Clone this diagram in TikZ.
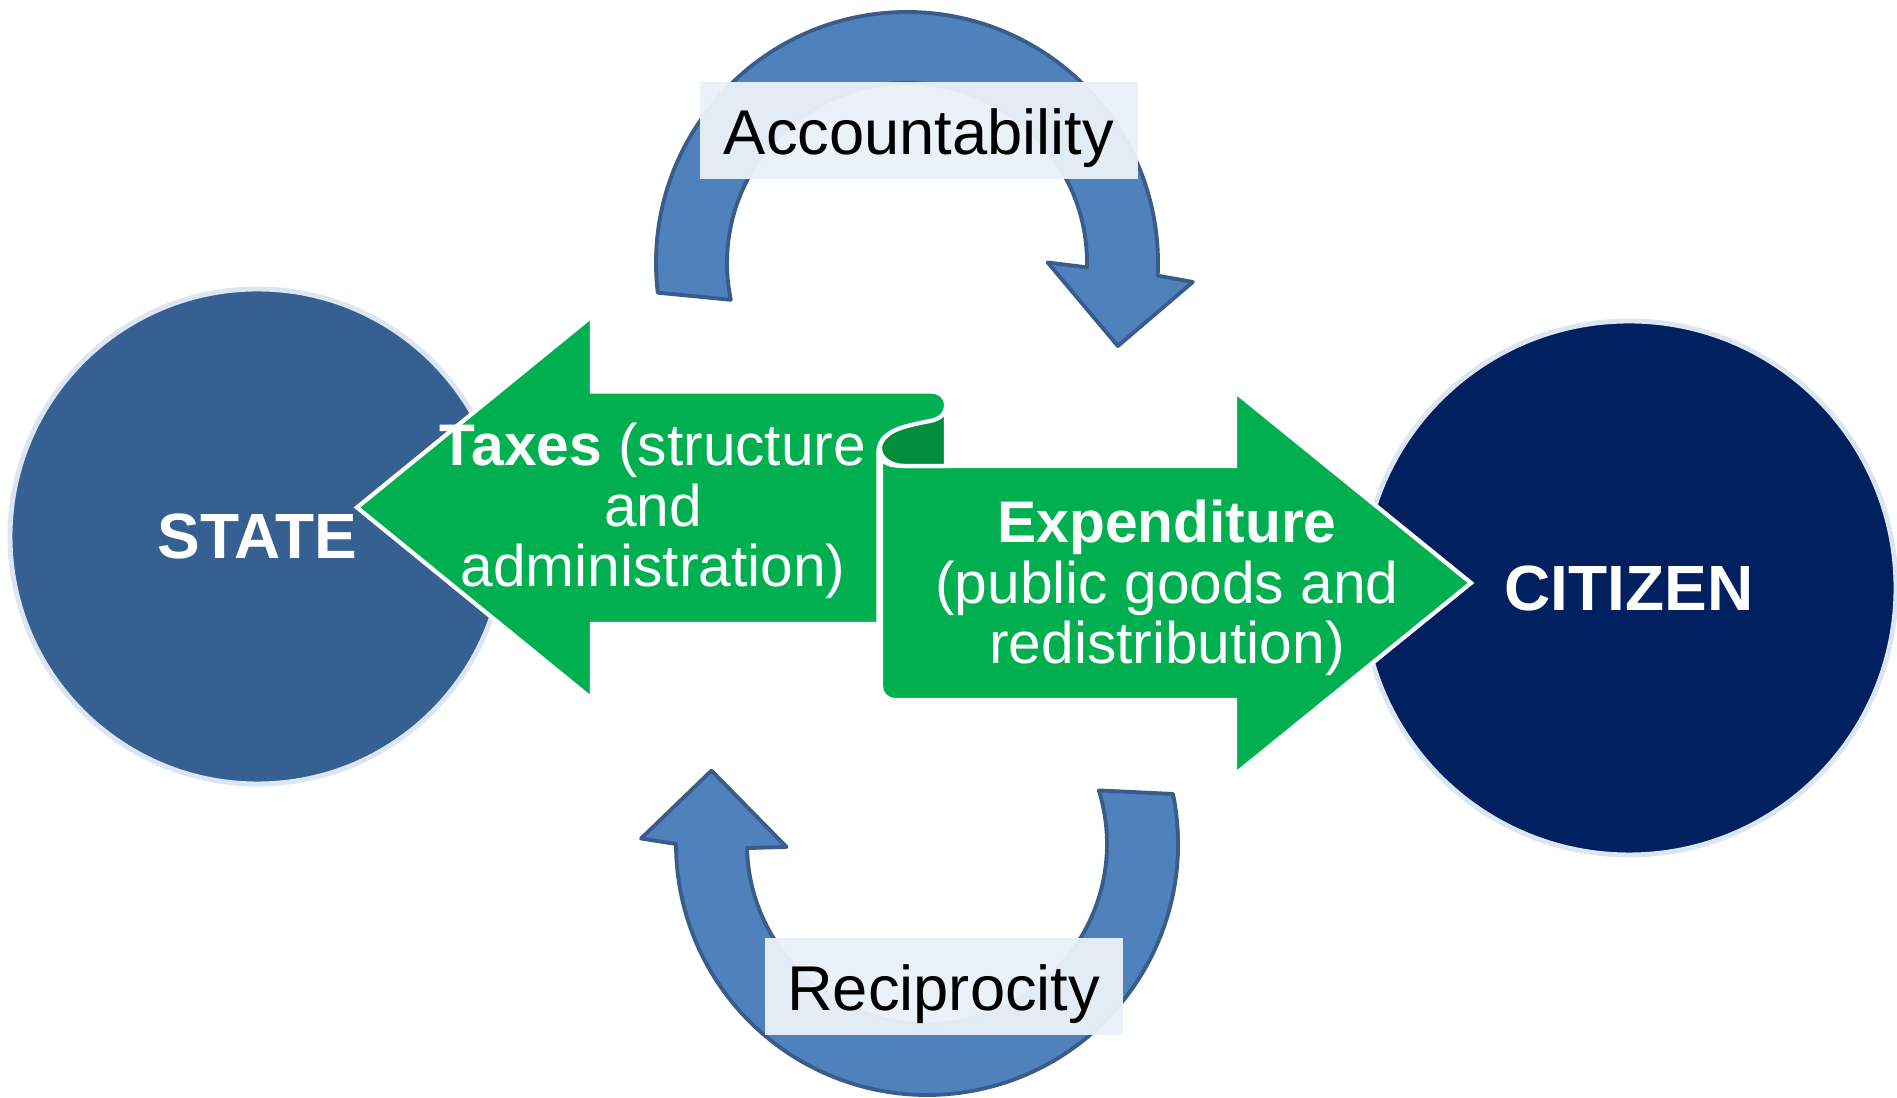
\documentclass[tikz,border=0pt]{standalone}
\usepackage{fontspec}
\setmainfont{Liberation Sans}

\definecolor{statefill}{HTML}{376092}
\definecolor{citizenfill}{HTML}{002060}
\definecolor{ringline}{HTML}{DCE6F2}
\definecolor{arrowgreen}{HTML}{00B050}
\definecolor{scrollback}{HTML}{008E3C}
\definecolor{cyclefill}{HTML}{4F81BD}
\definecolor{cycleline}{HTML}{385D8A}
\definecolor{tagfill}{HTML}{EAF0F8}

\tikzset{
  actor/.style={circle, draw=ringline, line width=1.4pt, text=white, inner sep=0pt,
    font=\fontsize{18.2}{21}\selectfont\bfseries},
  flow/.style={fill=arrowgreen, draw=white, line width=1.2pt},
  flowtext/.style={text=white, align=center, inner sep=0pt,
    font=\fontsize{16.7}{17.3}\selectfont},
  cyclearrow/.style={fill=cyclefill, draw=cycleline, line width=1.1pt, line join=round},
  labeltag/.style={fill=tagfill, fill opacity=0.96, text opacity=1, inner sep=0pt,
    text height=0.73cm, text depth=0.24cm, font=\fontsize{18}{21}\selectfont},
}

\begin{document}
\begin{tikzpicture}
            \useasboundingbox (0,0) rectangle (18.97,10.98);

            \node[actor, fill=statefill, minimum size=4.95cm] (state) at (2.575,5.615) {STATE};
            \node[actor, fill=citizenfill, minimum size=5.34cm] (citizen) at (16.29,5.10) {CITIZEN};

            % right arrow first, then the rolled-up back of the scroll
            \draw[flow] (8.81,6.43) .. controls (8.81,6.35) and (8.90,6.32) .. (9.05,6.32)
                -- (12.35,6.32) -- (12.35,7.065) -- (14.71,5.15) -- (12.35,3.235) -- (12.35,3.98)
                -- (8.95,3.98) .. controls (8.87,3.98) and (8.81,4.04) .. (8.81,4.12) -- cycle;
            \draw[flow, fill=scrollback] (9.46,6.98) -- (9.46,6.32) -- (9.05,6.32)
                .. controls (8.90,6.32) and (8.80,6.40) .. (8.80,6.50)
                .. controls (8.80,6.68) and (9.20,6.78) .. (9.46,6.98) -- cycle;

            % left arrow on top, its end curls over the scroll
            \draw[flow] (3.57,5.905) -- (5.92,7.82) -- (5.92,7.065) -- (9.30,7.065)
                .. controls (9.40,7.065) and (9.46,7.01) .. (9.46,6.93)
                .. controls (9.46,6.84) and (9.40,6.79) .. (9.30,6.77)
                .. controls (9.10,6.73) and (8.95,6.70) .. (8.86,6.62)
                .. controls (8.80,6.57) and (8.78,6.51) .. (8.785,6.43)
                -- (8.785,4.74) -- (5.92,4.74) -- (5.92,3.99) -- cycle;

            \node[flowtext] (taxes) at (6.53,5.87) {\textbf{Taxes} (structure\\and\\administration)};
            \node[flowtext] (spend) at (11.67,5.10) {\textbf{Expenditure}\\(public goods and\\redistribution)};

            % curved arrows above and below
            \begin{scope}[shift={(9.07,8.35)}]
                \draw[cyclearrow] (186.8:2.51) arc[start angle=186.8, end angle=-2.9, radius=2.51]
                    -- (-3.8:2.865) -- (-21.5:2.266) -- (0.2:1.407) -- (-1.4:1.80)
                    arc[start angle=-1.4, end angle=191.8, radius=1.80] -- cycle;
            \end{scope}
            \begin{scope}[shift={(9.27,2.54)}]
                \draw[cyclearrow] (11.5:2.51) arc[start angle=11.5, end angle=-180, radius=2.51]
                    -- (178.9:2.86) -- (161.2:2.277) -- (181.2:1.406) -- (181.3:1.80)
                    arc[start angle=181.3, end angle=377.3, radius=1.80] -- cycle;
            \end{scope}

            \node[labeltag, minimum width=4.38cm] (acc) at (9.19,9.677) {Accountability};
            \node[labeltag, minimum width=3.58cm] (recip) at (9.437,1.118) {Reciprocity};
\end{tikzpicture}
\end{document}
